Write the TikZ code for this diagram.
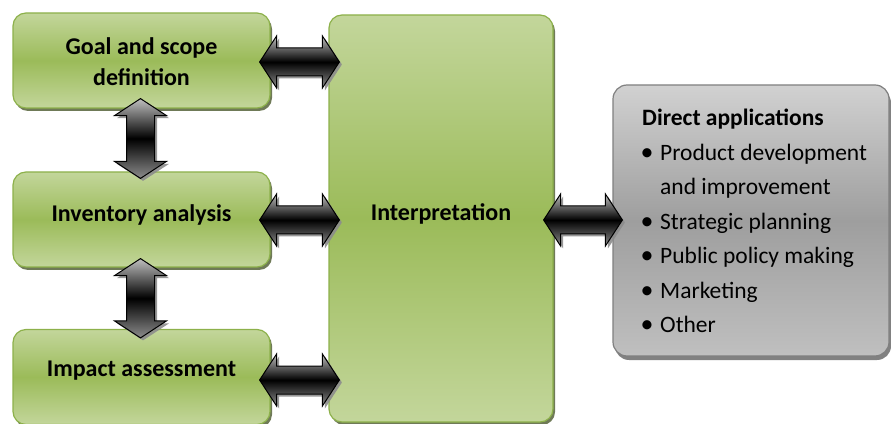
\documentclass[tikz,border=0pt]{standalone}
\usepackage{fontspec}
\setmainfont{Carlito}
\usetikzlibrary{calc,shadows}

\definecolor{gLight}{HTML}{C3D69B}
\definecolor{gMid}{HTML}{9BBB59}
\definecolor{gEdge}{HTML}{8DB14B}
\definecolor{gShade}{HTML}{56633A}

% double-headed block arrows: left/right tip, top/bottom tip
\newcommand\harrow[2]{%
  \path[blockarrow] let \p1=#1, \p2=#2 in
    (\x1,\y1) -- ++(17,26) -- ++(0,-12) -- (\x2-17pt,\y1+14pt) -- ++(0,12)
    -- (\x2,\y1) -- ++(-17,-26) -- ++(0,12) -- (\x1+17pt,\y1-14pt) -- ++(0,-12) -- cycle;}
\newcommand\varrow[2]{%
  \path[blockarrow] let \p1=#1, \p2=#2 in
    (\x1,\y1) -- ++(26,-17) -- ++(-12,0) -- (\x1+14pt,\y2+17pt) -- ++(12,0)
    -- (\x1,\y2) -- ++(-26,17) -- ++(12,0) -- (\x1-14pt,\y1-17pt) -- ++(-12,0) -- cycle;}
% list bullet with hanging indent
\newcommand\itm{\makebox[18pt][l]{\hspace{-1.5pt}\scalebox{1.1}{\textbullet}}}

\begin{document}
\begin{tikzpicture}[x=1pt,y=1pt,
  stage/.style={draw=gEdge, line width=1.2pt, rounded corners=13pt,
    top color=gLight, bottom color=gLight, middle color=gMid,
    drop shadow={shadow xshift=2pt, shadow yshift=-3pt, fill=gShade, opacity=0.85}},
  stagetext/.style={font=\fontsize{24}{31}\selectfont\bfseries, align=center, text=black},
  appsbox/.style={draw=black!50, line width=1.2pt, rounded corners=14pt,
    top color=black!18, bottom color=black!25, middle color=black!38,
    drop shadow={shadow xshift=2pt, shadow yshift=-4pt, fill=black!55, opacity=0.9}},
  blockarrow/.style={draw=black, line width=1pt, line join=miter,
    top color=black!25, bottom color=black!45, middle color=black,
    drop shadow={shadow xshift=2.5pt, shadow yshift=-2.5pt, fill=black!45, opacity=0.9}}]
\useasboundingbox (0,0) rectangle (891,423);

% LCA phase boxes
\node[stage, minimum width=257, minimum height=95] (goal) at (141.5,362.5) {};
\node[stage, minimum width=257, minimum height=95] (inv)  at (141.5,203.5) {};
\node[stage, minimum width=257, minimum height=95] (imp)  at (141.5,46) {};
\node[stage, minimum width=224, minimum height=407] (interp) at (441,204.5) {};

\node[stagetext] (goal-t) at ($(goal.center)+(0,-1)$) {Goal and scope\\definition};
\node[stagetext] (inv-t) at ($(inv.center)+(0,5)$) {Inventory analysis};
\node[stagetext] (imp-t) at ($(imp.center)+(0,6)$) {Impact assessment};
\node[stagetext] (interp-t) at ($(interp.center)+(0,5)$) {Interpretation};

% applications box
\node[appsbox, minimum width=276, minimum height=271] (apps) at (751,202.5) {};
\node[anchor=north west, inner sep=0, align=left,
      font=\fontsize{23.5}{34.5}\selectfont] (apps-t) at (642,314)
  {\textbf{Direct applications}\\
   \itm Product development\\
   \hspace*{18pt}and improvement\\
   \itm Strategic planning\\
   \itm Public policy making\\
   \itm Marketing\\
   \itm Other};

% connectors
\harrow{($(goal.east)+(-11,-1.5)$)}{($(interp.west |- goal.east)+(11,-1.5)$)}
\harrow{($(inv.east)+(-11,-0.5)$)}{($(interp.west |- inv.east)+(11,-0.5)$)}
\harrow{($(imp.east)+(-11,-3)$)}{($(interp.west |- imp.east)+(11,-3)$)}
\harrow{($(interp.east |- apps.west)+(-10,0.5)$)}{($(apps.west)+(10,0.5)$)}
\varrow{($(goal.south)+(-1,10)$)}{($(inv.north)+(-1,-7)$)}
\varrow{($(inv.south)+(-1,9)$)}{($(imp.north)+(-1,-9)$)}
\end{tikzpicture}
\end{document}
